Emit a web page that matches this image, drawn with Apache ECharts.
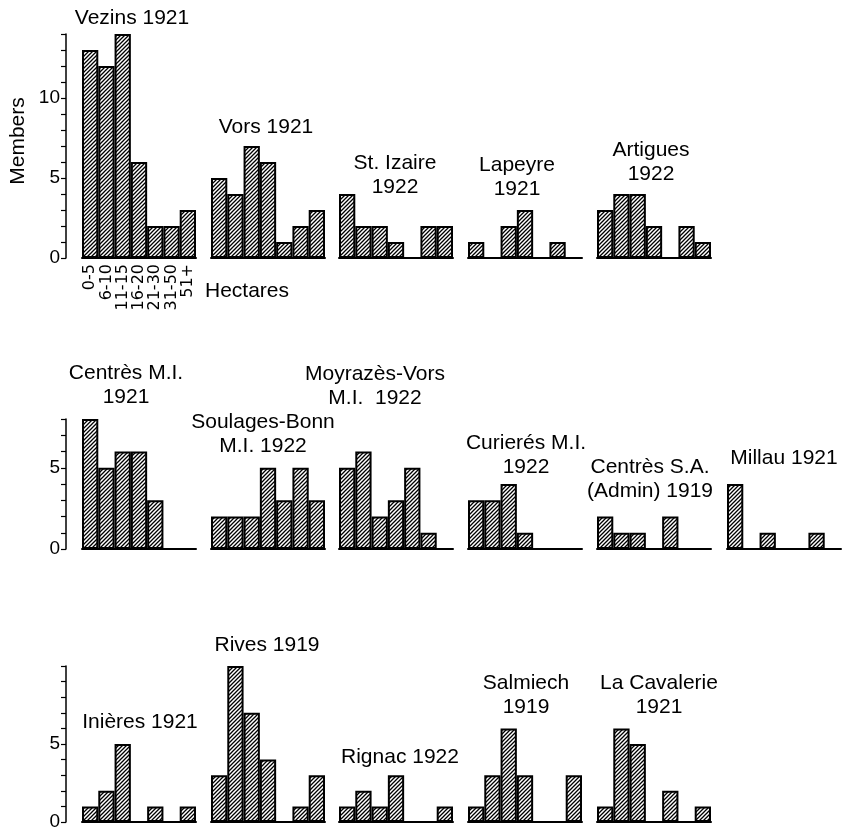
<!DOCTYPE html>
<html><head><meta charset="utf-8">
<script src="https://cdn.jsdelivr.net/npm/echarts@6/dist/echarts.min.js"></script>
<style>html,body{margin:0;padding:0;background:#fff}#c{width:848px;height:832px}</style>
</head><body><div id="c"></div>
<script>
// ---- data ----
const categories = ['0-5', '6-10', '11-15', '16-20', '21-30', '31-50', '51+'];
const vezins1921 = [13, 12, 14, 6, 2, 2, 3];
const vors1921 = [5, 4, 7, 6, 1, 2, 3];
const stIzaire1922 = [4, 2, 2, 1, 0, 2, 2];
const lapeyre1921 = [1, 0, 2, 3, 0, 1, 0];
const artigues1922 = [3, 4, 4, 2, 0, 2, 1];
const centresMI1921 = [8, 5, 6, 6, 3, 0, 0];
const soulagesBonnMI1922 = [2, 2, 2, 5, 3, 5, 3];
const moyrazesVorsMI1922 = [5, 6, 2, 3, 5, 1, 0];
const curieresMI1922 = [3, 3, 4, 1, 0, 0, 0];
const centresSA1919 = [2, 1, 1, 0, 2, 0, 0];
const millau1921 = [4, 0, 1, 0, 0, 1, 0];
const inieres1921 = [1, 2, 5, 0, 1, 0, 1];
const rives1919 = [3, 10, 7, 4, 0, 1, 3];
const rignac1922 = [1, 2, 1, 3, 0, 0, 1];
const salmiech1919 = [1, 3, 6, 3, 0, 0, 3];
const laCavalerie1921 = [1, 6, 5, 0, 2, 0, 1];
const rowMax = [14, 8, 10];
const rowTickLabels = [[0, 5, 10], [0, 5], [0, 5]];
const yAxisName = 'Members';
const xAxisName = 'Hectares';

const panels = [
  {title: 'Vezins 1921', data: vezins1921},
  {title: 'Vors 1921', data: vors1921},
  {title: 'St. Izaire\n1922', data: stIzaire1922},
  {title: 'Lapeyre\n1921', data: lapeyre1921},
  {title: 'Artigues\n1922', data: artigues1922},
  {title: 'Centrès M.I.\n1921', data: centresMI1921},
  {title: 'Soulages-Bonn\nM.I. 1922', data: soulagesBonnMI1922},
  {title: 'Moyrazès-Vors\nM.I.  1922', data: moyrazesVorsMI1922},
  {title: 'Curierés M.I.\n1922', data: curieresMI1922},
  {title: 'Centrès S.A.\n(Admin) 1919', data: centresSA1919},
  {title: 'Millau 1921', data: millau1921},
  {title: 'Inières 1921', data: inieres1921},
  {title: 'Rives 1919', data: rives1919},
  {title: 'Rignac 1922', data: rignac1922},
  {title: 'Salmiech\n1919', data: salmiech1919},
  {title: 'La Cavalerie\n1921', data: laCavalerie1921}
];

// ---- layout (positions/sizes) ----
const rows = [{top: 34, height: 224}, {top: 419, height: 130}, {top: 666, height: 156}];
const lefts = [82, 211, 339, 468, 597, 727];
const panelWidth = 114;
const panelPos = [ // [row, col]
  [0,0],[0,1],[0,2],[0,3],[0,4],
  [1,0],[1,1],[1,2],[1,3],[1,4],[1,5],
  [2,0],[2,1],[2,2],[2,3],[2,4]
];
const titlePos = [ // center x, first line center y
  [132,18],[266,127],[395,163],[517,165],[651,150],
  [126,373],[263,422],[375,374],[526,443],[650,467],[784,458],
  [140,722],[267,645],[400,757],[526,683],[659,683]
];

const FONT = '"Liberation Sans", Arial, sans-serif';

// hatch pattern
const pc = document.createElement('canvas');
pc.width = 4; pc.height = 4;
const g = pc.getContext('2d');
g.strokeStyle = '#000'; g.lineWidth = 1.3; g.lineCap = 'square';
g.beginPath();
g.moveTo(0, 4); g.lineTo(4, 0);
g.moveTo(-1, 1); g.lineTo(1, -1);
g.moveTo(3, 5); g.lineTo(5, 3);
g.stroke();
const hatch = {image: pc, repeat: 'repeat'};

const grid = [], xAxis = [], yAxis = [], series = [], graphic = [];
panels.forEach((p, i) => {
  const [r, c] = panelPos[i];
  const labels = rowTickLabels[r];
  grid.push({left: lefts[c], top: rows[r].top, width: panelWidth, height: rows[r].height});
  xAxis.push({
    type: 'category', gridIndex: i, data: categories,
    axisLine: {show: true, lineStyle: {color: '#000', width: 2}},
    axisTick: {show: false},
    splitLine: {show: false},
    axisLabel: i === 0 ? {show: true, interval: 0, rotate: 90, margin: 6, color: '#000', fontSize: 16, fontFamily: '"DejaVu Sans", sans-serif'} : {show: false}
  });
  yAxis.push({
    type: 'value', gridIndex: i, min: 0, max: rowMax[r], interval: 1,
    show: c === 0, offset: 16,
    axisLine: {show: true, lineStyle: {color: '#000', width: 1.5}},
    axisTick: {show: true, length: 5, inside: false, lineStyle: {color: '#000', width: 1.2}},
    splitLine: {show: false},
    axisLabel: {show: true, margin: 6, color: '#000', fontSize: 19, fontFamily: FONT,
      formatter: v => labels.indexOf(v) >= 0 ? String(v) : ''}
  });
  series.push({
    type: 'bar', xAxisIndex: i, yAxisIndex: i, data: p.data,
    barCategoryGap: '0%', silent: true,
    itemStyle: {color: hatch, borderColor: '#000', borderWidth: 2}
  });
  graphic.push({
    type: 'text', x: titlePos[i][0], y: titlePos[i][1] - 12,
    style: {text: p.title, fill: '#000', font: '21px ' + FONT, lineHeight: 24, textAlign: 'center', textVerticalAlign: 'top'}
  });
});
graphic.push({type: 'text', x: 18, y: 141, rotation: Math.PI / 2,
  style: {text: yAxisName, fill: '#000', font: '21px ' + FONT, textAlign: 'center', textVerticalAlign: 'middle'}});
graphic.push({type: 'text', x: 205, y: 291,
  style: {text: xAxisName, fill: '#000', font: '21px ' + FONT, textAlign: 'left', textVerticalAlign: 'middle'}});

const chart = echarts.init(document.getElementById('c'), null, {renderer: 'canvas'});
chart.setOption({
  backgroundColor: '#fff', animation: false,
  grid, xAxis, yAxis, series, graphic
});
</script></body></html>
